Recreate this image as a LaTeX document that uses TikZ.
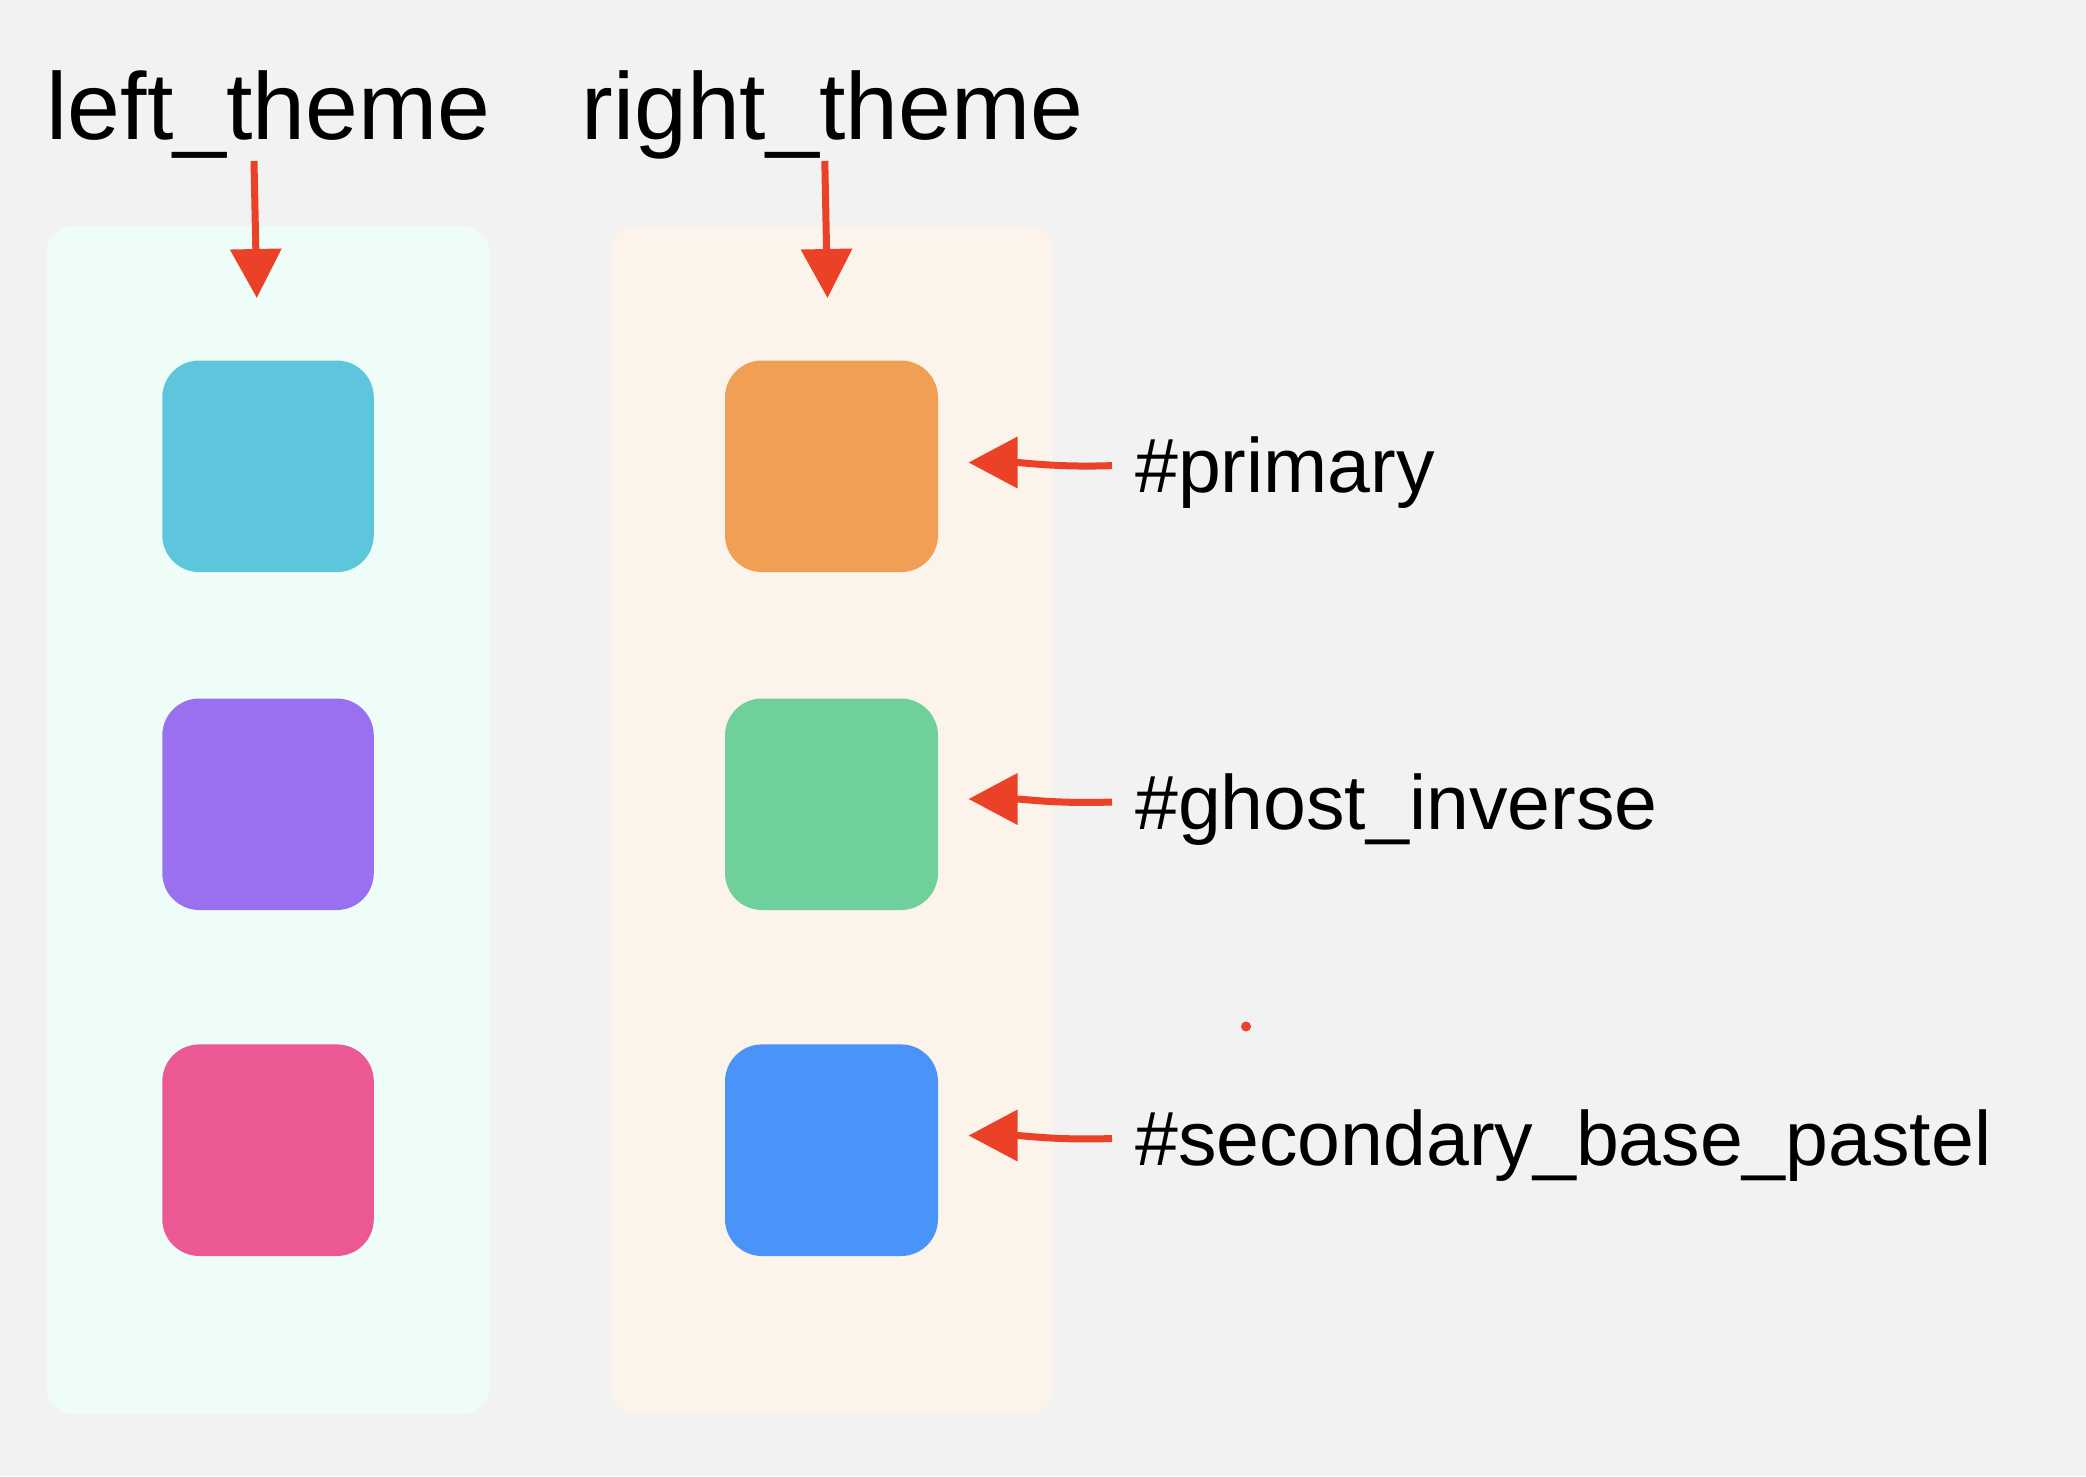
\documentclass[tikz,border=0pt]{standalone}
\usepackage{fontspec}
\setmainfont{Liberation Sans}
\usetikzlibrary{arrows.meta}
\definecolor{bg}{HTML}{F2F2F2}
\definecolor{panelL}{HTML}{EEFDF7}
\definecolor{panelR}{HTML}{FCF3EB}
\definecolor{cCyan}{HTML}{5DC5DC}
\definecolor{cPurple}{HTML}{9970F0}
\definecolor{cPink}{HTML}{EC5893}
\definecolor{cOrange}{HTML}{F09F55}
\definecolor{cGreen}{HTML}{6FD09B}
\definecolor{cBlue}{HTML}{4A93F8}
\definecolor{arrRed}{HTML}{EB4127}
\tikzset{
  panel/.style={rounded corners=27pt},
  swatch/.style={rounded corners=37pt},
  title/.style={anchor=base west, inner sep=0pt, font=\fontsize{95}{110}\selectfont},
  lab/.style={anchor=base west, inner sep=0pt, font=\fontsize{77}{90}\selectfont},
  arr/.style={draw=arrRed, line width=7pt, -{Triangle[length=49pt,width=50pt]}},
}
\begin{document}
\begin{tikzpicture}[x=1pt,y=-1pt]
\fill[bg] (0,0) rectangle (2086,1476);
\useasboundingbox (0,0) rectangle (2086,1476);
% panels
\fill[panelL,panel] (46.6,226) rectangle (489.6,1414);
\fill[panelR,panel] (610.7,226) rectangle (1053.7,1414);
% swatches
\fill[cCyan,swatch]   (162.3,360.5) rectangle (373.8,572.1);
\fill[cPurple,swatch] (162.3,698.5) rectangle (373.8,910);
\fill[cPink,swatch]   (162.3,1044.4) rectangle (373.8,1256);
\fill[cOrange,swatch] (725,360.5) rectangle (938,572.1);
\fill[cGreen,swatch]  (725,698.5) rectangle (938,910);
\fill[cBlue,swatch]   (725,1044.4) rectangle (938,1256);
% titles
\node[title] (lt) at (46.6,139.7) {left\_theme};
\node[title] (rt) at (581.4,139.7) {right\_theme};
% labels
\node[lab] (l1) at (1135,492) {\#primary};
\node[lab] (l2) at (1135,829) {\#ghost\_inverse};
\node[lab] (l3) at (1135,1165.5) {\#secondary\_base\_pastel};
% down arrows
\coordinate (dlt) at (254,161);
\coordinate (dlh) at (256.8,298);
\coordinate (drt) at (824.8,161);
\coordinate (drh) at (827.5,298);
\draw[arr] (dlt) -- (dlh);
\draw[arr] (drt) -- (drh);
% left arrows
\coordinate (t1) at (1112,465.6);
\coordinate (h1) at (968.5,462.5);
\coordinate (t2) at (1112,802);
\coordinate (h2) at (968.5,799);
\coordinate (t3) at (1112,1138.5);
\coordinate (h3) at (968.5,1135.5);
\draw[arr] (t1) to[out=182,in=0] (h1);
\draw[arr] (t2) to[out=182,in=0] (h2);
\draw[arr] (t3) to[out=182,in=0] (h3);
% dot
\fill[arrRed] (1246,1026.5) circle (5);
\end{tikzpicture}
\end{document}
